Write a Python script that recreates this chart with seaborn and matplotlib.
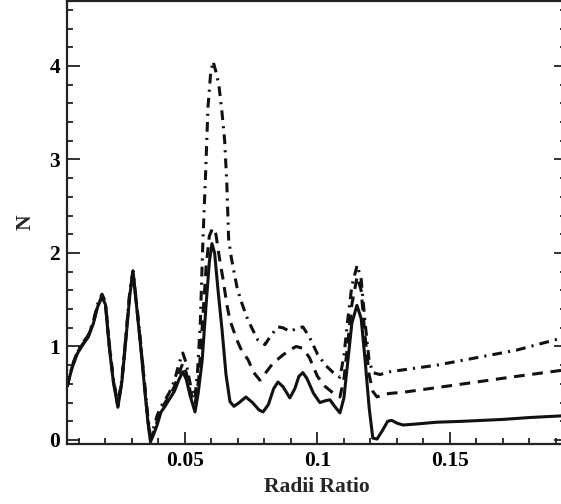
import numpy as np
import pandas as pd
import matplotlib
matplotlib.use("Agg")
import matplotlib.pyplot as plt
from matplotlib.ticker import MultipleLocator
import seaborn as sns

# ---------------- data ----------------
x_solid = [0.0055, 0.0075, 0.0095, 0.0115, 0.0135, 0.0155, 0.0170, 0.0187, 0.0200, 0.0215,
           0.0230, 0.0247, 0.0262, 0.0278, 0.0292, 0.0304, 0.0318, 0.0333, 0.0348, 0.0360,
           0.0370, 0.0382, 0.0395, 0.0410, 0.0425, 0.0440,
           0.0460, 0.0478, 0.0492, 0.0505, 0.0520, 0.0538, 0.0550, 0.0565, 0.0580, 0.0592,
           0.0602, 0.0612, 0.0625, 0.0640, 0.0655, 0.0670, 0.0685, 0.0705, 0.0730, 0.0755,
           0.0780, 0.0795, 0.0815, 0.0835, 0.0851, 0.0870, 0.0896, 0.0915, 0.0930, 0.0945,
           0.0960, 0.0985, 0.1009, 0.1030, 0.1047, 0.1065, 0.1085, 0.1100, 0.1115, 0.1130,
           0.1149, 0.1165, 0.1180, 0.1195, 0.1209, 0.1225, 0.1245, 0.1265, 0.1280, 0.1300,
           0.1323, 0.1370, 0.1450, 0.1550, 0.1700, 0.1800, 0.1935]
y_solid = [0.57, 0.78, 0.93, 1.02, 1.10, 1.25, 1.42, 1.53, 1.45, 0.98,
           0.62, 0.35, 0.62, 1.10, 1.55, 1.80, 1.42, 1.00, 0.55, 0.20,
           -0.02, 0.06, 0.16, 0.30, 0.36, 0.43,
           0.52, 0.65, 0.73, 0.65, 0.47, 0.30, 0.50, 0.85, 1.45, 1.90,
           2.10, 2.00, 1.60, 1.18, 0.70, 0.41, 0.36, 0.40, 0.46, 0.40,
           0.32, 0.30, 0.38, 0.55, 0.62, 0.57, 0.45, 0.55, 0.68, 0.72,
           0.66, 0.50, 0.40, 0.42, 0.43, 0.36, 0.29, 0.45, 0.85, 1.25,
           1.44, 1.30, 0.85, 0.35, 0.02, 0.01, 0.10, 0.20, 0.21, 0.18,
           0.16, 0.17, 0.19, 0.20, 0.22, 0.24, 0.26]

x_dashed = [0.0055, 0.0075, 0.0095, 0.0115, 0.0135, 0.0155, 0.0170, 0.0187, 0.0200, 0.0215,
            0.0230, 0.0247, 0.0262, 0.0278, 0.0292, 0.0304, 0.0318, 0.0333, 0.0348, 0.0360,
            0.0370, 0.0382, 0.0395, 0.0410, 0.0425, 0.0440,
            0.0460, 0.0478, 0.0492, 0.0505, 0.0520, 0.0538, 0.0552, 0.0565, 0.0580, 0.0592,
            0.0605, 0.0617, 0.0630, 0.0645, 0.0658, 0.0670, 0.0696, 0.0715, 0.0738, 0.0760,
            0.0783, 0.0805, 0.0832, 0.0870, 0.0900, 0.0920, 0.0945, 0.0970, 0.1000, 0.1030,
            0.1060, 0.1085, 0.1100, 0.1115, 0.1130, 0.1150, 0.1165, 0.1180, 0.1195, 0.1209,
            0.1225, 0.1250, 0.1280, 0.1323, 0.1450, 0.1600, 0.1750, 0.1935]
y_dashed = [0.57, 0.79, 0.94, 1.03, 1.11, 1.26, 1.43, 1.54, 1.46, 1.00,
            0.63, 0.36, 0.63, 1.12, 1.57, 1.80, 1.43, 1.02, 0.57, 0.22,
            0.00, 0.09, 0.20, 0.33, 0.40, 0.46,
            0.57, 0.72, 0.82, 0.72, 0.52, 0.38, 0.65, 1.20, 1.85, 2.18,
            2.27, 2.20, 1.95, 1.70, 1.45, 1.28, 1.07, 0.95, 0.86, 0.72,
            0.64, 0.72, 0.82, 0.91, 0.97, 1.00, 0.98, 0.88, 0.68, 0.57,
            0.50, 0.46, 0.65, 1.05, 1.45, 1.75, 1.60, 1.10, 0.70, 0.52,
            0.46, 0.49, 0.50, 0.51, 0.56, 0.62, 0.68, 0.75]

x_dashdot = [0.0055, 0.0075, 0.0095, 0.0115, 0.0135, 0.0155, 0.0170, 0.0187, 0.0200, 0.0215,
             0.0230, 0.0247, 0.0262, 0.0278, 0.0292, 0.0304, 0.0318, 0.0333, 0.0348, 0.0360,
             0.0370, 0.0382, 0.0395, 0.0410, 0.0425, 0.0440,
             0.0460, 0.0478, 0.0492, 0.0505, 0.0520, 0.0538, 0.0548, 0.0558, 0.0568, 0.0578,
             0.0587, 0.0597, 0.0606, 0.0616, 0.0628, 0.0640, 0.0650, 0.0658, 0.0665, 0.0675,
             0.0696, 0.0710, 0.0738, 0.0775, 0.0802, 0.0825, 0.0851, 0.0870, 0.0896, 0.0920,
             0.0945, 0.0970, 0.1000, 0.1030, 0.1060, 0.1085, 0.1100, 0.1115, 0.1130, 0.1150,
             0.1165, 0.1180, 0.1195, 0.1209, 0.1236, 0.1274, 0.1323, 0.1450, 0.1600, 0.1750,
             0.1935]
y_dashdot = [0.57, 0.80, 0.95, 1.04, 1.12, 1.28, 1.45, 1.56, 1.48, 1.02,
             0.65, 0.38, 0.65, 1.14, 1.59, 1.81, 1.45, 1.04, 0.60, 0.25,
             0.03, 0.13, 0.26, 0.36, 0.43, 0.50,
             0.63, 0.82, 0.93, 0.82, 0.60, 0.45, 0.75, 1.25, 2.14, 2.85,
             3.56, 3.92, 4.05, 3.95, 3.80, 3.50, 3.20, 2.75, 2.15, 1.95,
             1.64, 1.50, 1.28, 1.07, 1.02, 1.12, 1.21, 1.20, 1.16, 1.19,
             1.21, 1.10, 0.92, 0.80, 0.72, 0.67, 0.90, 1.30, 1.65, 1.87,
             1.72, 1.25, 0.85, 0.72, 0.70, 0.73, 0.75, 0.80, 0.88, 0.96,
             1.10]

series_names = ["solid", "dashed", "dashdot"]
x_ticks = [0.05, 0.1, 0.15]
x_tick_labels = ["0.05", "0.1", "0.15"]
y_ticks = [0, 1, 2, 3, 4]
y_tick_labels = ["0", "1", "2", "3", "4"]
x_label = "Radii Ratio"
y_label = "N"

df = pd.concat([
    pd.DataFrame({"x": x_solid, "y": y_solid, "series": series_names[0]}),
    pd.DataFrame({"x": x_dashed, "y": y_dashed, "series": series_names[1]}),
    pd.DataFrame({"x": x_dashdot, "y": y_dashdot, "series": series_names[2]}),
], ignore_index=True)

# ---------------- style ----------------
sns.set_style("ticks")
plt.rcParams["font.family"] = ["Liberation Serif", "DejaVu Serif"]
plt.rcParams["font.weight"] = "bold"

fig = plt.figure(figsize=(5.61, 5.04), dpi=100)
ax = fig.add_axes([67 / 561, 1 - 444 / 504, (566 - 67) / 561, (444 - 1) / 504])

sns.lineplot(data=df, x="x", y="y", style="series", style_order=series_names,
             dashes={"solid": "", "dashed": (3.5, 2.5), "dashdot": (3.2, 2.0, 0.7, 2.0)},
             color="#111111", linewidth=2.2, estimator=None, sort=False,
             legend=False, ax=ax)

ax.set_xlim(0.0055, 0.1938)
ax.set_ylim(-0.043, 4.695)

ax.set_xticks(x_ticks)
ax.set_xticklabels(x_tick_labels)
ax.set_yticks(y_ticks)
ax.set_yticklabels(y_tick_labels)
ax.xaxis.set_minor_locator(MultipleLocator(0.01))
ax.yaxis.set_minor_locator(MultipleLocator(0.2))

ax.tick_params(which="both", direction="in", top=False, right=True,
               width=1.3, colors="#222222", labelcolor="black",
               labelsize=15.5)
ax.tick_params(which="major", length=9, pad=5)
ax.tick_params(which="minor", length=4.5)
for lab in ax.get_xticklabels() + ax.get_yticklabels():
    lab.set_fontweight("bold")

for sp in ax.spines.values():
    sp.set_visible(True)
    sp.set_linewidth(1.6)
    sp.set_color("#222222")

ax.set_xlabel(x_label, fontsize=15.5, fontweight="bold", labelpad=4)
ax.set_ylabel(y_label, fontsize=15.5, fontweight="bold", labelpad=10)

fig.savefig("out.png", dpi=100)
